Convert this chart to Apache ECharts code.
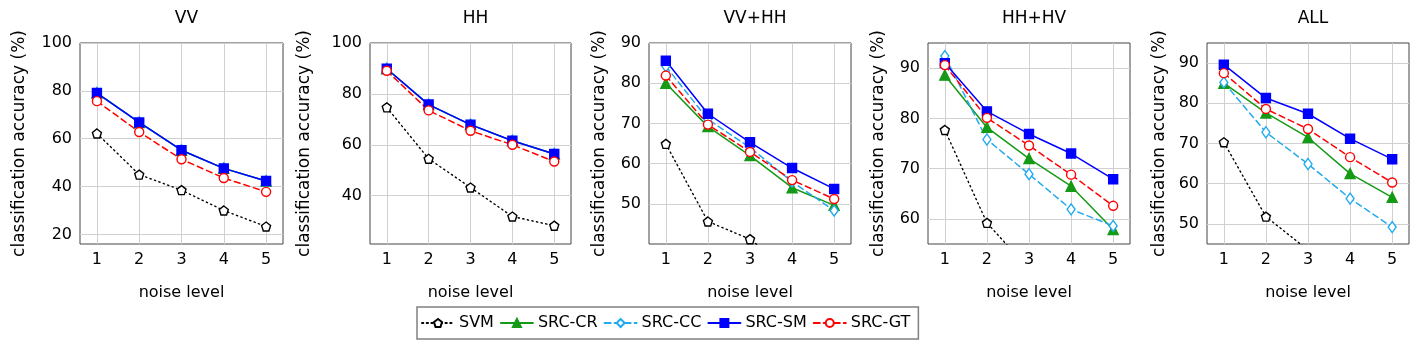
<!DOCTYPE html>
<html>
<head>
<meta charset="utf-8">
<script src="https://cdn.jsdelivr.net/npm/echarts@6/dist/echarts.min.js"></script>
<style>
html,body{margin:0;padding:0;background:#fff;}
#c{width:1410px;height:342px;}
</style>
</head>
<body>
<div id="c"></div>
<script>
// ---- data ----
const panelTitles = ['VV', 'HH', 'VV+HH', 'HH+HV', 'ALL'];
const noiseLevels = [1, 2, 3, 4, 5];
const seriesNames = ['SVM', 'SRC-CR', 'SRC-CC', 'SRC-SM', 'SRC-GT'];
const svmAcc   = [[62.2, 45.0, 38.5, 30.0, 23.3], [74.7, 54.5, 43.2, 31.8, 28.2], [64.9, 45.6, 41.2, 33, 28], [77.7, 59.2, 50, 44, 40], [70.3, 51.8, 43.5, 38, 34]];
const srcCrAcc = [[79.1, 66.8, 55.2, 47.6, 42.3], [89.9, 75.8, 67.9, 61.6, 56.4], [80.0, 69.2, 62.0, 54.0, 49.6], [88.6, 78.2, 72.0, 66.5, 57.9], [85.0, 77.6, 71.5, 62.5, 56.6]];
const srcCcAcc = [[79.1, 66.8, 55.2, 47.6, 42.3], [89.9, 75.8, 67.9, 61.6, 56.4], [84.2, 71.0, 64.0, 55.5, 48.3], [92.4, 75.8, 68.9, 61.9, 58.6], [85.2, 72.8, 64.9, 56.3, 49.2]];
const srcSmAcc = [[79.1, 66.8, 55.2, 47.6, 42.3], [89.9, 75.8, 67.9, 61.6, 56.4], [85.6, 72.4, 65.3, 58.9, 53.7], [91.0, 81.4, 76.9, 73.0, 67.9], [89.6, 81.3, 77.4, 71.2, 66.1]];
const srcGtAcc = [[75.7, 62.8, 51.4, 43.6, 37.8], [89.1, 73.5, 65.5, 60.0, 53.4], [81.9, 69.7, 62.9, 55.9, 51.2], [90.6, 80.1, 74.6, 68.8, 62.6], [87.5, 78.6, 73.6, 66.6, 60.3]];
const yMin = [16, 21, 40, 55, 45];
const yMax = [100, 100, 90, 95, 95];
const yTicks = [[20, 40, 60, 80, 100], [40, 60, 80, 100], [50, 60, 70, 80, 90], [60, 70, 80, 90], [50, 60, 70, 80, 90]];
const xTicks = [1, 2, 3, 4, 5];
const xAxisName = 'noise level';
const yAxisName = 'classification accuracy (%)';

// ---- layout / style ----
const FONT = 'DejaVu Sans';
const gridLeft = [80, 370, 649, 928, 1207];
const gridWidth = [203, 201, 202, 202, 202];
const yNameGap = [52, 57, 41, 41, 39];
const pentagon = 'path://M0,-10 L9.51,-3.09 L5.88,8.09 L-5.88,8.09 L-9.51,-3.09 Z';

const styles = {
  'SVM':    {color: '#000000', type: [1.3, 3.4], symbol: pentagon, size: 9, fill: '#ffffff', width: 1.4},
  'SRC-CR': {color: '#159a15', type: 'solid', symbol: 'triangle', size: 10, fill: '#159a15', width: 1.5},
  'SRC-CC': {color: '#22aaee', type: [6, 4], symbol: 'diamond', size: [8, 11], fill: '#ffffff', width: 1.5},
  'SRC-SM': {color: '#0000ff', type: 'solid', symbol: 'rect', size: 9, fill: '#0000ff', width: 1.5},
  'SRC-GT': {color: '#ff0000', type: [6, 4], symbol: 'circle', size: 9, fill: '#ffffff', width: 1.5}
};
const dataBySeries = {'SVM': svmAcc, 'SRC-CR': srcCrAcc, 'SRC-CC': srcCcAcc, 'SRC-SM': srcSmAcc, 'SRC-GT': srcGtAcc};

const grids = [], xAxes = [], yAxes = [], titles = [], series = [];
panelTitles.forEach((t, i) => {
  grids.push({left: gridLeft[i], top: 43, width: gridWidth[i], height: 201, show: true,
    borderColor: '#444', borderWidth: 1, backgroundColor: 'transparent'});
  titles.push({text: t, left: gridLeft[i] + gridWidth[i] / 2, top: 5, textAlign: 'center',
    textStyle: {fontFamily: FONT, fontSize: 17, fontWeight: 'normal', color: '#000'}});
  xAxes.push({type: 'value', gridIndex: i, min: 0.6, max: 5.4,
    name: xAxisName, nameLocation: 'middle', nameGap: 41,
    nameTextStyle: {fontFamily: FONT, fontSize: 16, color: '#000'},
    axisLine: {show: false}, axisTick: {show: false, customValues: xTicks},
    axisLabel: {customValues: xTicks, fontFamily: FONT, fontSize: 16, color: '#000', margin: 8},
    splitLine: {show: true, lineStyle: {color: '#d0d0d0', width: 1}}});
  yAxes.push({type: 'value', gridIndex: i, min: yMin[i], max: yMax[i],
    name: yAxisName, nameLocation: 'middle', nameGap: yNameGap[i],
    nameTextStyle: {fontFamily: FONT, fontSize: 17, color: '#000'},
    axisLine: {show: false}, axisTick: {show: false, customValues: yTicks[i]},
    axisLabel: {customValues: yTicks[i], fontFamily: FONT, fontSize: 16, color: '#000', margin: 8},
    splitLine: {show: true, lineStyle: {color: '#d0d0d0', width: 1}}});
  seriesNames.forEach(name => {
    const s = styles[name];
    series.push({
      type: 'line', name: name, xAxisIndex: i, yAxisIndex: i,
      data: noiseLevels.map((x, k) => [x, dataBySeries[name][i][k]]),
      symbol: s.symbol, symbolSize: s.size, showAllSymbol: true, clip: true,
      lineStyle: {color: s.color, width: s.width, type: s.type, cap: 'round'},
      itemStyle: {color: s.fill, borderColor: s.color, borderWidth: 1.4},
      emphasis: {disabled: true}, animation: false
    });
  });
});

const chart = echarts.init(document.getElementById('c'));
chart.setOption({
  animation: false,
  backgroundColor: '#fff',
  title: titles,
  grid: grids,
  xAxis: xAxes,
  yAxis: yAxes,
  legend: {
    data: seriesNames, left: 417, top: 307, orient: 'horizontal',
    itemWidth: 32, itemHeight: 10, itemGap: 6,
    padding: [8, 8, 8, 4], borderColor: '#808080', borderWidth: 1.5,
    textStyle: {fontFamily: FONT, fontSize: 16, color: '#000'}
  },
  series: series
});
</script>
</body>
</html>
